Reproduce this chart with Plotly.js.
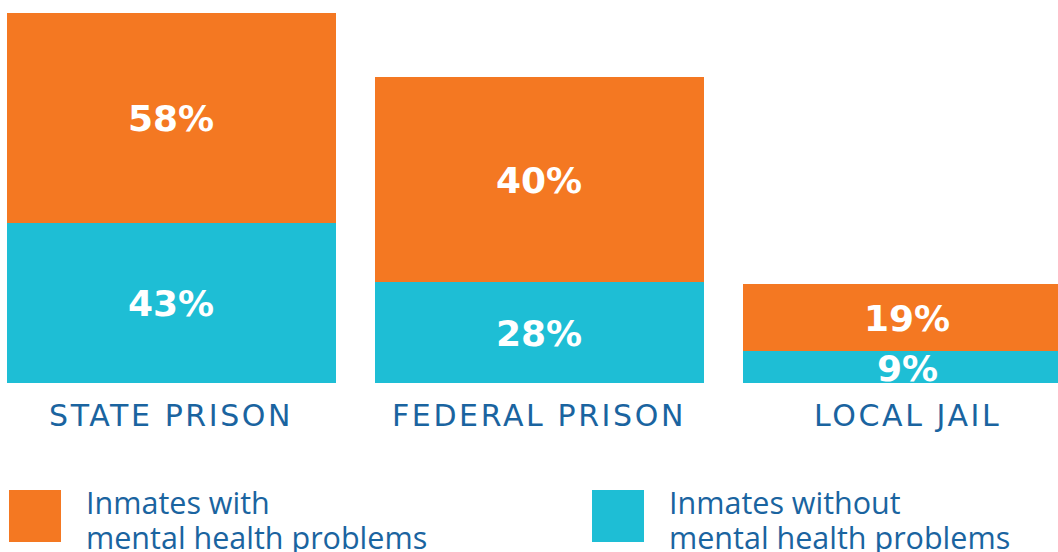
<!DOCTYPE html>
<html>
<head>
<meta charset="utf-8">
<script src="https://cdn.plot.ly/plotly-3.0.1.min.js"></script>
<style>
html,body{margin:0;padding:0;background:#fff;}
#chart{width:1058px;height:552px;}
</style>
</head>
<body>
<div id="chart"></div>
<script>
// Data
const categories = ["STATE PRISON", "FEDERAL PRISON", "LOCAL JAIL"];
const withoutHeights = [43.7, 27.6, 8.7];   // teal segment heights as drawn
const withHeights = [57.3, 56.0, 18.3];     // orange segment heights as drawn
const withoutLabels = ["43%", "28%", "9%"];
const withLabels = ["58%", "40%", "19%"];
const legendLine1 = ["Inmates with", "Inmates without"];
const legendLine2 = ["mental health problems", "mental health problems"];

const ORANGE = "#F47822";
const TEAL = "#1EBED5";
const BLUE = "#1A64A0";

const W = 1058, H = 552, plotBottom = 383;
const xs = [0, 1, 2];

const traces = [
  {type: "bar", x: xs, y: withoutHeights, marker: {color: TEAL}, width: 0.893, hoverinfo: "skip", name: "without"},
  {type: "bar", x: xs, y: withHeights, marker: {color: ORANGE}, width: 0.893, hoverinfo: "skip", name: "with"}
];

const annotations = [];
xs.forEach((x, i) => {
  annotations.push({x: x, y: withoutHeights[i] / 2, xref: "x", yref: "y", text: withoutLabels[i],
    showarrow: false, font: {family: "DejaVu Sans", size: 36, color: "#fff", weight: 700}, yshift: -1});
  annotations.push({x: x, y: withoutHeights[i] + withHeights[i] / 2, xref: "x", yref: "y", text: withLabels[i],
    showarrow: false, font: {family: "DejaVu Sans", size: 36, color: "#fff", weight: 700}, yshift: -1});
  annotations.push({x: x, y: 0, xref: "x", yref: "y", yanchor: "middle", yshift: -32,
    text: '<span style="letter-spacing:2.6px">' + categories[i] + '</span>',
    showarrow: false, font: {family: "DejaVu Sans", size: 30, color: BLUE}});
});

const py = p => (plotBottom - p) / plotBottom;
const px = p => p / W;

const legendX = [9, 592];
const legendColors = [ORANGE, TEAL];
const shapes = [];
legendX.forEach((lx, i) => {
  shapes.push({type: "rect", xref: "paper", yref: "paper", x0: px(lx), x1: px(lx + 52), y0: py(542), y1: py(490),
    fillcolor: legendColors[i], line: {width: 0}});
  annotations.push({xref: "paper", yref: "paper", x: px(lx + 75), y: py(482), xanchor: "left", yanchor: "top", align: "left",
    height: 36, valign: "middle",
    text: legendLine1[i], showarrow: false, font: {family: "Open Sans", size: 30.5, color: BLUE}});
  annotations.push({xref: "paper", yref: "paper", x: px(lx + 75), y: py(518), xanchor: "left", yanchor: "top", align: "left",
    height: 34, valign: "middle",
    text: legendLine2[i], showarrow: false, font: {family: "Open Sans", size: 30.5, color: BLUE}});
});

const layout = {
  width: W, height: H,
  margin: {l: 0, r: 0, t: 0, b: H - plotBottom, pad: 0},
  paper_bgcolor: "#fff", plot_bgcolor: "#fff",
  barmode: "stack", bargap: 0,
  showlegend: false,
  xaxis: {range: [-0.466, 2.409], showgrid: false, zeroline: false, showticklabels: false, ticks: "", fixedrange: true},
  yaxis: {range: [0, 104.55], showgrid: false, zeroline: false, showticklabels: false, ticks: "", fixedrange: true},
  annotations: annotations,
  shapes: shapes
};

Plotly.newPlot("chart", traces, layout, {displayModeBar: false, staticPlot: true});
</script>
</body>
</html>
